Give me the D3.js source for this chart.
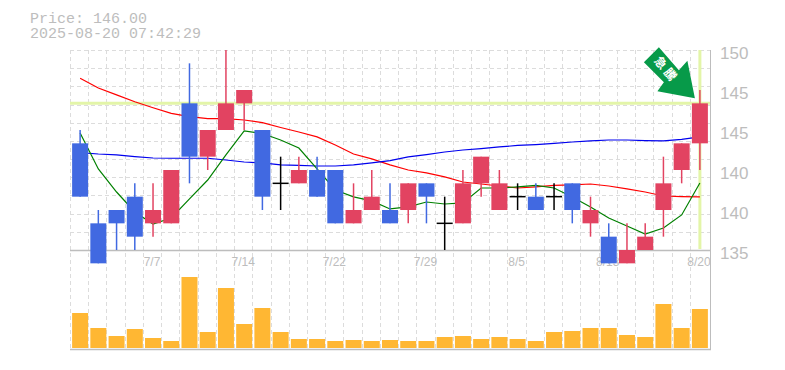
<!DOCTYPE html>
<html>
<head>
<meta charset="utf-8">
<script src="https://cdn.jsdelivr.net/npm/d3@7"></script>
<style>
  html, body { margin: 0; padding: 0; background: #fff; }
  svg { display: block; }
</style>
</head>
<body>
<div id="chart"></div>
<script>
const dates = ["7/1","7/2","7/3","7/4","7/7","7/8","7/9","7/10","7/11","7/14","7/15","7/16","7/17","7/18","7/22","7/23","7/24","7/25","7/28","7/29","7/30","7/31","8/1","8/4","8/5","8/6","8/7","8/8","8/12","8/13","8/14","8/15","8/18","8/19","8/20"];
const tickDates = ["7/7","7/14","7/22","7/29","8/5","8/13","8/20"];

const opens  = [143,137,138,139,137,137,146,142,144,146,144,140,140,141,141,137,138,138,138,140,137,137,140,138,139,139,139,140,137,136,134,135,138,141,143];
const closes = [139,134,137,136,138,141,142,144,146,147,139,140,141,139,137,138,139,137,140,139,137,140,142,140,139,138,139,138,138,134,135,136,140,143,146];
const highs  = [144,138,138,140,140,141,149,144,150,147,144,142,142,142,141,140,141,140,140,140,139,141,142,141,140,140,140,140,139,137,137,137,142,143,147];
const lows   = [139,134,135,135,136,137,140,141,144,144,138,138,140,139,137,137,138,137,137,137,135,137,139,138,138,138,138,137,136,134,134,135,136,140,141];

const ma5  = [143.78,141.08,139.35,137.85,136.95,137.4,138.83,140.25,142.13,143.93,143.74,143.25,142.65,141.08,139.5,138.98,138.68,138.08,138.23,138.6,138.45,138.53,139.65,139.65,139.73,139.84,139.65,138.98,138.23,137.4,136.8,136.2,136.65,137.63,140.03];
const ma25 = [147.88,147.15,146.63,146.12,145.67,145.25,145.0,144.85,144.85,144.75,144.55,144.19,143.85,143.48,142.88,142.2,141.83,141.38,141.0,140.78,140.48,140.1,139.95,139.8,139.65,139.73,139.84,139.88,139.95,139.8,139.58,139.35,139.05,139.01,138.98];
const ma75 = [142.31,142.2,142.13,142.01,141.9,141.88,141.88,141.88,141.75,141.6,141.53,141.38,141.34,141.3,141.3,141.38,141.53,141.71,141.98,142.16,142.35,142.5,142.61,142.73,142.84,142.91,142.99,143.1,143.18,143.25,143.25,143.21,143.18,143.29,143.48];
const volumes = [35,20,12,19,10,7,71,16,60,24,40,16,9,9,7,8,7,8,7,7,11,12,9,11,9,7,16,17,20,20,13,11,44,20,39];

const priceTicks = [150,147,144,141,138,135];
const lastPrice = 146;

const width = 785, height = 370;
const plotLeft = 70, plotRight = 710, plotTop = 50, plotMid = 250, plotBottom = 349;

const svg = d3.select("#chart").append("svg")
  .attr("width", width)
  .attr("height", height);

const x = d3.scaleBand().domain(d3.range(dates.length)).range([71, 709]);
const cx = i => x(i) + x.bandwidth() / 2;
const y = d3.scaleLinear().domain([135, 150]).range([plotMid, plotTop]);
const yVol = d3.scaleLinear().domain([0, 71]).range([348, 277]);

// grid
const hGrid = d3.range(11).map(i => plotTop + i * (plotMid - plotTop) / 11);
svg.append("g").selectAll("line").data(hGrid).join("line")
  .attr("x1", plotLeft).attr("x2", plotRight)
  .attr("y1", d => Math.round(d) + .5).attr("y2", d => Math.round(d) + .5)
  .attr("stroke", "#dcdcdc").attr("stroke-width", 1).attr("stroke-dasharray", "4,3");
svg.append("g").selectAll("line").data(d3.range(dates.length)).join("line")
  .attr("x1", d => Math.round(x(d)) - .5).attr("x2", d => Math.round(x(d)) - .5)
  .attr("y1", plotTop).attr("y2", plotBottom)
  .attr("stroke", "#dcdcdc").attr("stroke-width", 1).attr("stroke-dasharray", "4,3");

// date labels sit under the candles
svg.append("g").selectAll("text").data(tickDates).join("text")
  .attr("x", d => cx(dates.indexOf(d)) - 1)
  .attr("y", 266)
  .attr("text-anchor", "middle")
  .attr("font-family", "Liberation Sans")
  .attr("font-size", 12)
  .attr("fill", "#bdbdbd")
  .text(d => d);

// frame
svg.append("line").attr("x1", plotLeft).attr("x2", plotRight).attr("y1", 250.5).attr("y2", 250.5).attr("stroke", "#bdbdbd").attr("stroke-width", 1.5);
svg.append("line").attr("x1", plotLeft).attr("x2", plotRight + 1).attr("y1", 349.5).attr("y2", 349.5).attr("stroke", "#bdbdbd").attr("stroke-width", 1.5);
svg.append("line").attr("x1", plotRight + .5).attr("x2", plotRight + .5).attr("y1", plotTop).attr("y2", plotBottom).attr("stroke", "#bdbdbd").attr("stroke-width", 1);

// last price markers
svg.append("line").attr("x1", plotLeft).attr("x2", plotRight).attr("y1", y(lastPrice)).attr("y2", y(lastPrice))
  .attr("stroke", "#e3f5a8").attr("stroke-width", 3);
svg.append("line").attr("x1", cx(34)).attr("x2", cx(34)).attr("y1", plotTop).attr("y2", 249)
  .attr("stroke", "#e3f5a8").attr("stroke-width", 3);

// moving averages
const line = d3.line().x((d, i) => cx(i)).y(d => y(d));
[[ma25, "#ff0000"], [ma75, "#0000ee"], [ma5, "#008000"]].forEach(s => {
  svg.append("path").attr("d", line(s[0])).attr("fill", "none")
    .attr("stroke", s[1]).attr("stroke-width", 1.2);
});

// candles
const colorOf = i => closes[i] > opens[i] ? "#e24361" : closes[i] < opens[i] ? "#4169e1" : "#000";
const idx = d3.range(dates.length);
svg.append("g").selectAll("line").data(idx).join("line")
  .attr("x1", cx).attr("x2", cx)
  .attr("y1", i => y(highs[i])).attr("y2", i => y(lows[i]))
  .attr("stroke", colorOf).attr("stroke-width", 1.5);
svg.append("g").selectAll("rect").data(idx.filter(i => closes[i] !== opens[i])).join("rect")
  .attr("x", i => cx(i) - 8).attr("width", 16)
  .attr("y", i => y(Math.max(opens[i], closes[i])))
  .attr("height", i => Math.abs(y(opens[i]) - y(closes[i])))
  .attr("fill", colorOf);
svg.append("g").selectAll("line").data(idx.filter(i => closes[i] === opens[i])).join("line")
  .attr("x1", i => cx(i) - 8).attr("x2", i => cx(i) + 8)
  .attr("y1", i => y(opens[i])).attr("y2", i => y(opens[i]))
  .attr("stroke", "#000").attr("stroke-width", 1.5);

// volume
svg.append("g").selectAll("rect").data(volumes).join("rect")
  .attr("x", (d, i) => cx(i) - 8).attr("width", 16)
  .attr("y", d => yVol(d)).attr("height", d => yVol(0) - yVol(d))
  .attr("fill", "#ffb733");

// arrow badge pointing at the last candle
const arrow = svg.append("g").attr("transform", `translate(${cx(34) - 5},${y(lastPrice) - 5})`);
arrow.append("path")
  .attr("d", "M-36,-51 L-51,-36 L-31,-16 L-37.5,-7 L0,0 L-7.5,-37.5 L-16,-28 Z")
  .attr("fill", "#079a49");
arrow.append("text")
  .attr("transform", "translate(-28.5,-28.5) rotate(50)")
  .attr("text-anchor", "middle")
  .attr("font-family", "Noto Sans CJK JP")
  .attr("font-weight", 700)
  .attr("font-size", 12)
  .attr("letter-spacing", 3)
  .attr("fill", "#fff")
  .attr("dy", "0.35em")
  .text("急騰");

// price axis labels
svg.append("g").selectAll("text").data(priceTicks).join("text")
  .attr("x", 720)
  .attr("y", d => y(d) + 9)
  .attr("font-family", "Liberation Sans")
  .attr("font-size", 17)
  .attr("fill", "#bdbdbd")
  .text(d => Math.round(d / 5) * 5);

// header
svg.append("g").selectAll("text").data(["Price: 146.00", "2025-08-20 07:42:29"]).join("text")
  .attr("x", 30)
  .attr("y", (d, i) => 23 + i * 15)
  .attr("font-family", "Liberation Mono")
  .attr("font-size", 15)
  .attr("fill", "#bdbdbd")
  .text(d => d);
</script>
</body>
</html>
